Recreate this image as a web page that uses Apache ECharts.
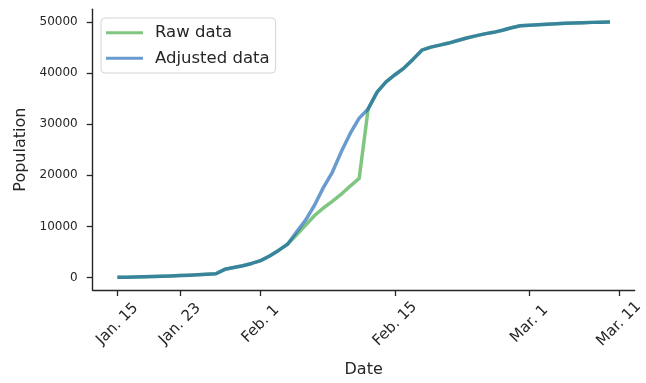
<!DOCTYPE html>
<html>
<head>
<meta charset="utf-8">
<script src="https://cdn.jsdelivr.net/npm/echarts@6/dist/echarts.min.js"></script>
<style>
  html, body { margin: 0; padding: 0; background: #fff; }
  #chart { width: 646px; height: 383px; }
</style>
</head>
<body>
<div id="chart"></div>
<script>
// Cumulative counts per day (day 0 = Jan. 15)
const rawData = [
  41, 50, 80, 120, 170, 230, 290, 370, 450, 530, 620, 720,
  1600, 1950, 2300, 2750, 3300, 4200, 5300, 6500,
  8300, 10200, 12100, 13600, 14900, 16300, 17900, 19400,
  33000, 36300, 38300, 39700, 41000, 42700, 44500, 45100,
  45500, 45900, 46400, 46900, 47300, 47700, 48000, 48400,
  48900, 49300, 49400, 49500, 49600, 49700, 49800, 49850,
  49900, 49950, 49980, 50000
];
const adjustedData = [
  41, 50, 80, 120, 170, 230, 290, 370, 450, 530, 620, 720,
  1600, 1950, 2300, 2750, 3300, 4200, 5300, 6500,
  8900, 11200, 14100, 17600, 20600, 24600, 28200, 31200,
  33000, 36300, 38300, 39700, 41000, 42700, 44500, 45100,
  45500, 45900, 46400, 46900, 47300, 47700, 48000, 48400,
  48900, 49300, 49400, 49500, 49600, 49700, 49800, 49850,
  49900, 49950, 49980, 50000
];
// Date ticks (day offsets) and their labels
const tickDays = [0, 7, 16, 31, 46, 56];
const tickLabels = ['Jan. 15', 'Jan. 23', 'Feb. 1', 'Feb. 15', 'Mar. 1', 'Mar. 11'];
const yTicks = [0, 10000, 20000, 30000, 40000, 50000];

const seriesNames = ['Raw data', 'Adjusted data'];
const seriesColors = ['rgba(44,160,44,0.6)', 'rgba(7,88,175,0.6)'];

const ink = '#262626';
const font = 'DejaVu Sans';

const toPoints = arr => arr.map((v, i) => [i, v]);

const chart = echarts.init(document.getElementById('chart'), null, { renderer: 'canvas' });
chart.setOption({
  animation: false,
  backgroundColor: '#fff',
  grid: { left: 92.7, right: 11, top: 9.3, bottom: 89, containLabel: false },
  legend: {
    left: 101, top: 18,
    orient: 'vertical',
    icon: 'rect',
    itemWidth: 37, itemHeight: 3,
    itemGap: 5.6,
    padding: [4.7, 6, 4.7, 5],
    backgroundColor: 'rgba(255,255,255,0.8)',
    borderColor: '#d5d5d5', borderWidth: 1, borderRadius: 4,
    textStyle: { fontFamily: font, fontSize: 16.5, color: ink, lineHeight: 20, padding: [0, 0, 0, 7] },
    data: seriesNames
  },
  xAxis: {
    type: 'value',
    min: -2.75, max: 57.75,
    name: 'Date', nameLocation: 'middle', nameGap: 72,
    nameTextStyle: { fontFamily: font, fontSize: 16, color: ink },
    splitLine: { show: false },
    axisLine: { onZero: false, lineStyle: { color: ink, width: 1.4 } },
    axisTick: { customValues: tickDays, length: 6, lineStyle: { color: ink, width: 1.3 } },
    axisLabel: {
      customValues: tickDays,
      rotate: 45, margin: 34,
      align: 'center', verticalAlign: 'middle',
      fontFamily: font, fontSize: 15, color: ink,
      formatter: v => tickLabels[tickDays.indexOf(Math.round(v))] || ''
    }
  },
  yAxis: {
    type: 'value',
    min: -2450, max: 52510,
    name: 'Population', nameLocation: 'middle', nameGap: 60,
    nameTextStyle: { fontFamily: font, fontSize: 16, color: ink },
    splitLine: { show: false },
    axisLine: { show: true, onZero: false, lineStyle: { color: ink, width: 1.4 } },
    axisTick: { show: true, customValues: yTicks, length: 6, lineStyle: { color: ink, width: 1.3 } },
    axisLabel: {
      customValues: yTicks, margin: 15,
      fontFamily: font, fontSize: 12, color: ink,
      formatter: v => String(Math.round(v))
    }
  },
  series: [
    {
      name: seriesNames[0], type: 'line', data: toPoints(rawData),
      showSymbol: false, symbol: 'none',
      color: seriesColors[0],
      lineStyle: { color: seriesColors[0], width: 3.5, join: 'round' },
      z: 2
    },
    {
      name: seriesNames[1], type: 'line', data: toPoints(adjustedData),
      showSymbol: false, symbol: 'none',
      color: seriesColors[1],
      lineStyle: { color: seriesColors[1], width: 3.5, join: 'round' },
      z: 3
    }
  ]
});
</script>
</body>
</html>
